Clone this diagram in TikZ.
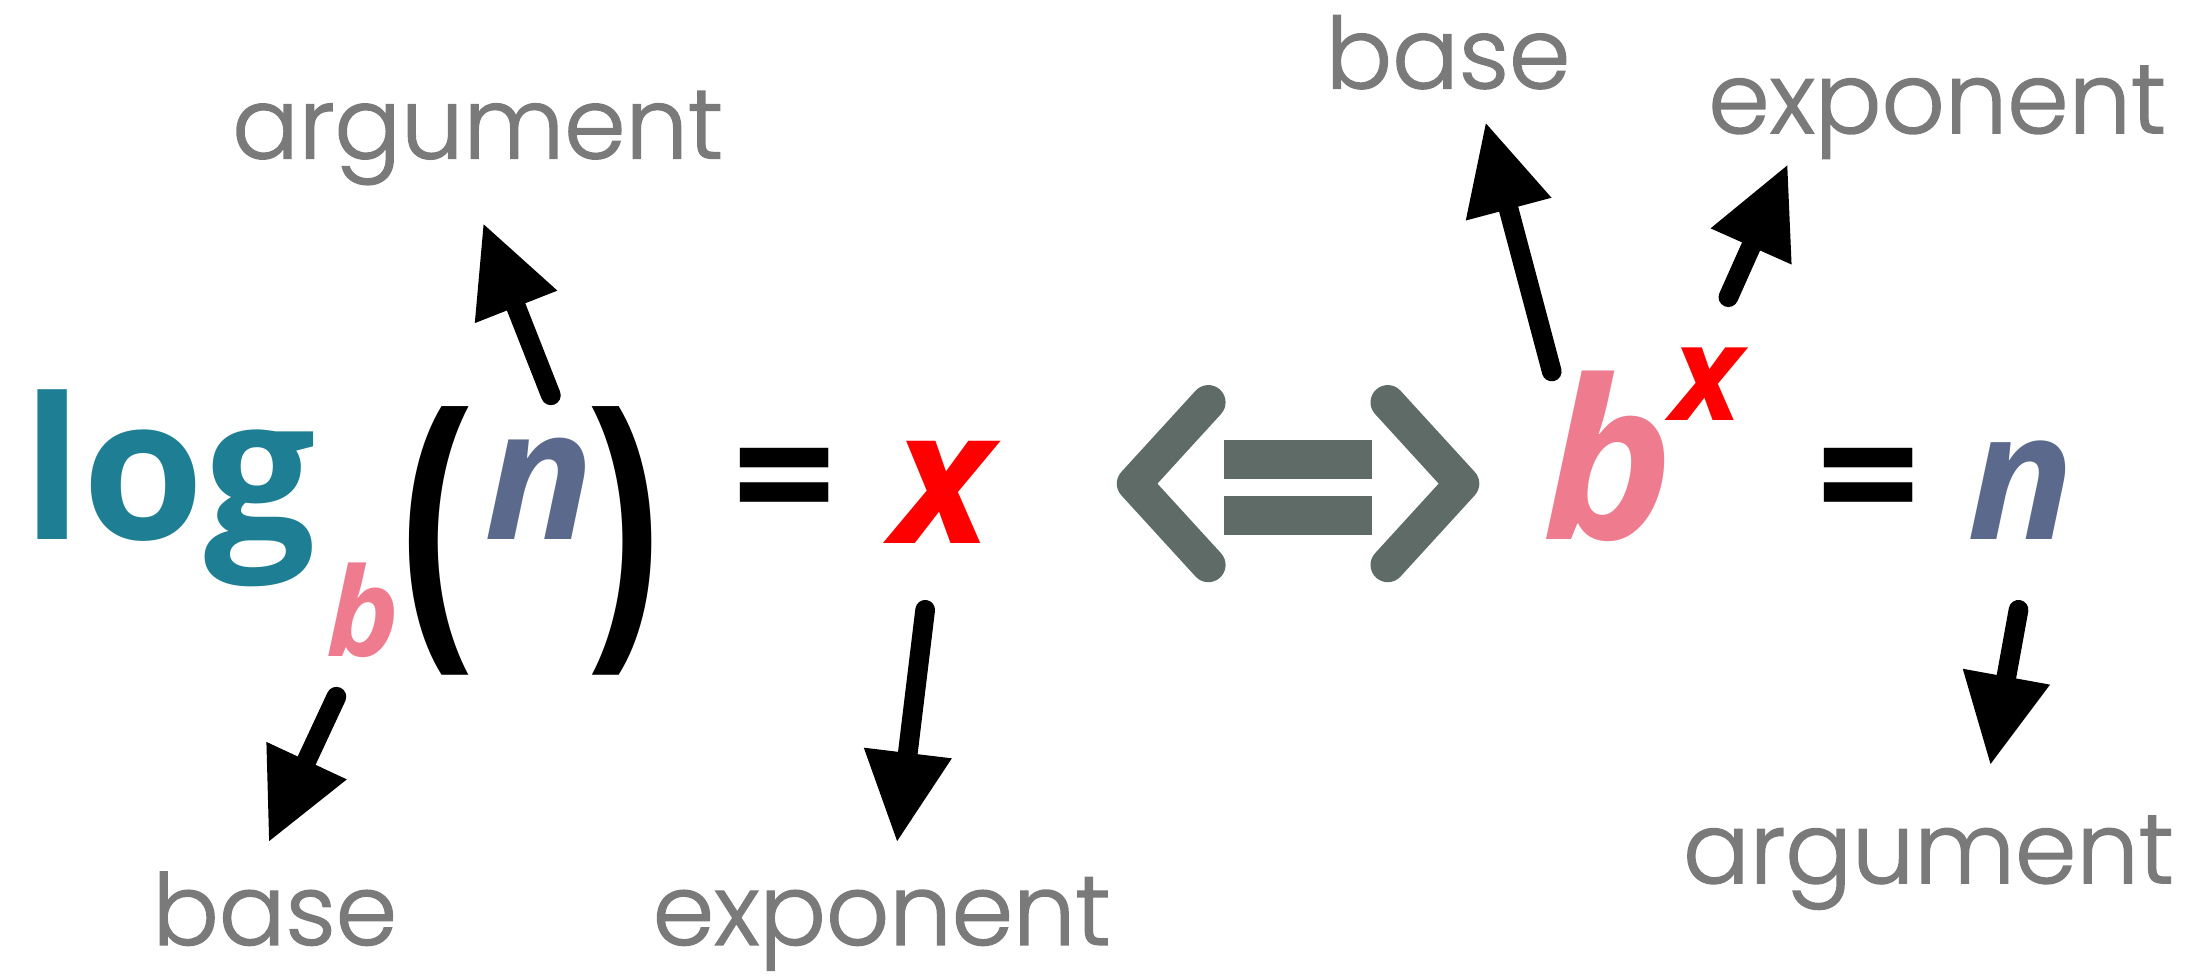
\documentclass[tikz,border=0pt]{standalone}
\usepackage{fontspec}
\setmainfont{Open Sans}
\newfontfamily\lblfont{Poppins Light}[FakeBold=1.5]
\usepackage{tikz}
\usetikzlibrary{arrows.meta}
\definecolor{logteal}{HTML}{1E7E94}
\definecolor{basepink}{HTML}{EF7B8F}
\definecolor{argslate}{HTML}{5B6A8C}
\definecolor{iffgray}{HTML}{5E6B67}
\definecolor{lblgray}{HTML}{7A7A7A}
\begin{document}
\begin{tikzpicture}[x=0.01cm, y=-0.01cm,
  sym/.style={inner sep=0pt, anchor=base west, font=\bfseries\itshape},
  lbl/.style={inner sep=0pt, anchor=base west, text=lblgray, font=\lblfont\fontsize{20}{24}\selectfont},
  ptr/.style={line width=4pt, line cap=round, -{Triangle[length=18pt, width=18pt, line width=0pt]}}]
\useasboundingbox (0,0) rectangle (1568,696);
% left: log_b(n) = x
\node[sym, font=\bfseries\fontsize{40}{48}\selectfont, text=logteal] (lg) at (15,385) {log};
\node[sym, font=\bfseries\itshape\fontsize{25}{30}\selectfont, text=basepink] (bsub) at (232,468) {b};
\node[sym, font=\bfseries\fontsize{50}{60}\selectfont] (lp) at (285,447) {\scalebox{0.9}[1.25]{(}};
\node[sym, font=\bfseries\itshape\fontsize{37}{44}\selectfont, text=argslate] (nL) at (345,385) {n};
\node[sym, font=\bfseries\fontsize{50}{60}\selectfont] (rp) at (417,447) {\scalebox{0.9}[1.25]{)}};
\node[sym, font=\bfseries\fontsize{37}{44}\selectfont] (eqL) at (522,385) {=};
\node[sym, font=\bfseries\itshape\fontsize{38}{44}\selectfont, text=red] (xL) at (636,388) {x};
% iff
\draw[iffgray, line width=7pt, line cap=round, line join=round] (862,287) -- (809,345) -- (862,403);
\draw[iffgray, line width=7pt, line cap=round, line join=round] (990,287) -- (1043,345) -- (990,403);
\fill[iffgray] (873,314) rectangle (979,342);
\fill[iffgray] (873,354) rectangle (979,382);
% right: b^x = n
\node[sym, font=\bfseries\itshape\fontsize{45}{54}\selectfont, text=basepink] (bR) at (1100,385) {b};
\node[sym, font=\bfseries\itshape\fontsize{27}{32}\selectfont, text=red] (xR) at (1192,300) {x};
\node[sym, font=\bfseries\fontsize{37}{44}\selectfont] (eqR) at (1295,385) {=};
\node[sym, font=\bfseries\itshape\fontsize{36}{44}\selectfont, text=argslate] (nR) at (1403,385) {n};
% labels
\node[lbl] (argL) at (165,113) {argument};
\node[lbl] (baseL) at (108,674) {base};
\node[lbl] (expL) at (465,674) {exponent};
\node[lbl] (baseR) at (945,63) {base};
\node[lbl] (expR) at (1218,95) {exponent};
\node[lbl] (argR) at (1200,630) {argument};
% pointers
\draw[ptr] ([shift={(48,-103)}]nL.base west) -- ([shift={(180,47)}]argL.base west);
\draw[ptr] ([shift={(8,29)}]bsub.base west) -- ([shift={(84,-74)}]baseL.base west);
\draw[ptr] ([shift={(24,47)}]xL.base west) -- ([shift={(175,-74)}]expL.base west);
\draw[ptr] ([shift={(7,-120)}]bR.base west) -- ([shift={(115,25)}]baseR.base west);
\draw[ptr] ([shift={(41,-88)}]xR.base west) -- ([shift={(57,23)}]expR.base west);
\draw[ptr] ([shift={(37,50)}]nR.base west) -- ([shift={(220,-85)}]argR.base west);
\end{tikzpicture}
\end{document}
